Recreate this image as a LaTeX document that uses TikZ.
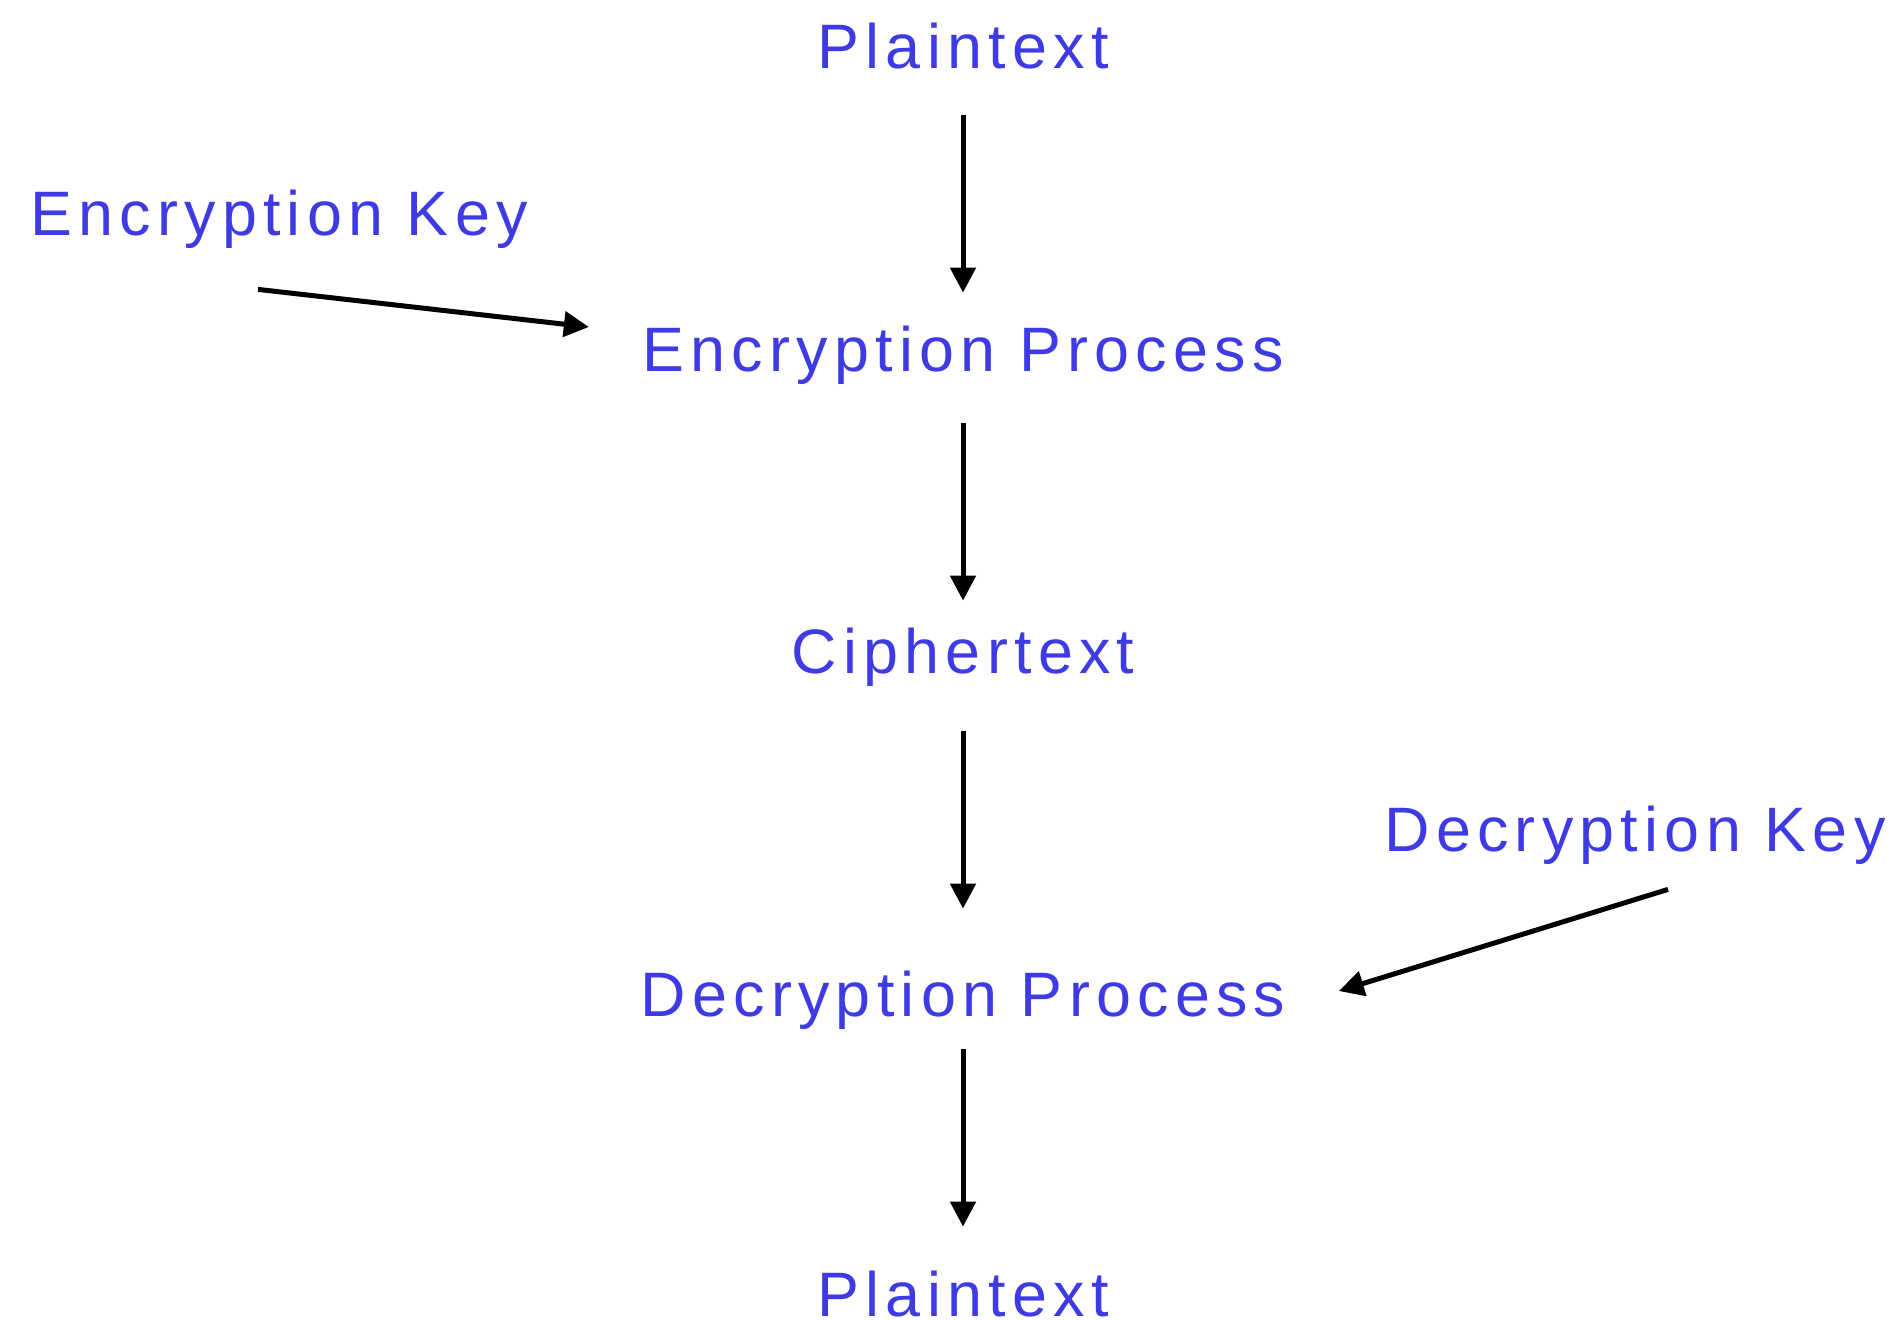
\documentclass[tikz,border=0pt]{standalone}
\usepackage{fontspec}
\setmainfont{Liberation Sans}[LetterSpace=10]
\usetikzlibrary{arrows.meta}
\definecolor{lblcol}{RGB}{62,58,228}
\begin{document}
\begin{tikzpicture}[x=0.5pt,y=-0.5pt,
  lbl/.style={text=lblcol, font=\fontsize{31.4pt}{36pt}\selectfont, inner sep=0pt,
              text height=22.5pt, text depth=0pt, anchor=base},
  arr/.style={-{Triangle[length=12.5pt,width=12.5pt]}, line width=2.5pt, black}]
\useasboundingbox (0,0) rectangle (1901,1320);
\node[lbl] (pt1) at (963,69) {Plaintext};
\node[lbl] (ek) at (279,236) {Encryption Key};
\node[lbl] (ep) at (963,372) {Encryption Process};
\node[lbl] (ct) at (963,674) {Ciphertext};
\node[lbl] (dk) at (1635,851) {Decryption Key};
\node[lbl] (dp) at (963,1016) {Decryption Process};
\node[lbl] (pt2) at (963,1316) {Plaintext};
\draw[arr, shorten <=23pt, shorten >=17pt] (pt1.south) -- (ep.north);
\draw[arr, shorten <=25.5pt, shorten >=14pt] (ep.south) -- (ct.north);
\draw[arr, shorten <=28.5pt, shorten >=31pt] (ct.south) -- (dp.north);
\draw[arr, shorten <=16.5pt, shorten >=22pt] (dp.south) -- (pt2.north);
\draw[arr] ([shift={(-21,53)}]ek.south) -- ([shift={(-53,-22.5)}]ep.west);
\draw[arr] ([shift={(33,38)}]dk.south) -- ([shift={(53,-2.5)}]dp.east);
\end{tikzpicture}
\end{document}
